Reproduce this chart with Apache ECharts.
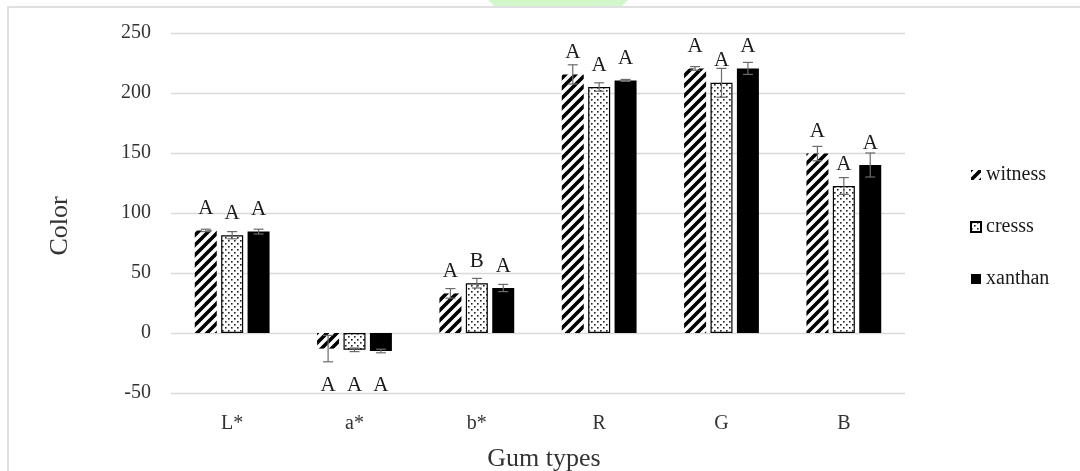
<!DOCTYPE html>
<html>
<head>
<meta charset="utf-8">
<script src="https://cdn.jsdelivr.net/npm/echarts@6/dist/echarts.min.js"></script>
<style>
  html, body { margin: 0; padding: 0; background: #fff; }
  #chart { width: 1080px; height: 471px; }
</style>
</head>
<body>
<div id="chart"></div>
<script>
const categories = ['L*', 'a*', 'b*', 'R', 'G', 'B']
const seriesNames = ['witness', 'cresss', 'xanthan']

const witness = [85.5, -13, 33, 215.5, 220.5, 149.5]
const cresss = [81.5, -14, 41.5, 205, 208.5, 122.5]
const xanthan = [84.5, -15, 37.5, 210.5, 220.5, 140]

const witnessErr = [1, 11, 4, 8, 1.5, 6]
const cresssErr = [3, 1.5, 4, 3.5, 12, 7]
const xanthanErr = [2, 1.5, 3, 0.8, 5, 10]

const witnessLetters = ['A', 'A', 'A', 'A', 'A', 'A']
const cresssLetters = ['A', 'A', 'B', 'A', 'A', 'A']
const xanthanLetters = ['A', 'A', 'A', 'A', 'A', 'A']

const yTicks = { min: -50, max: 250, interval: 50 }
const negLabelAt = -44 // letters under negative bars sit on one line

// patterns
function hatch () {
  const c = document.createElement('canvas')
  c.width = 10
  c.height = 10
  const ctx = c.getContext('2d')
  ctx.fillStyle = '#fff'
  ctx.fillRect(0, 0, 10, 10)
  ctx.strokeStyle = '#000'
  ctx.lineWidth = 3.6
  ctx.beginPath()
  for (let k = -1; k <= 1; k++) {
    ctx.moveTo(-2 + k * 10, 12)
    ctx.lineTo(12 + k * 10, -2)
  }
  ctx.stroke()
  return { image: c, repeat: 'repeat' }
}
function dots () {
  const c = document.createElement('canvas')
  c.width = 6
  c.height = 6
  const ctx = c.getContext('2d')
  ctx.fillStyle = '#fff'
  ctx.fillRect(0, 0, 6, 6)
  ctx.fillStyle = '#222'
  ctx.fillRect(0, 0, 1.6, 1.6)
  ctx.fillRect(3, 3, 1.6, 1.6)
  return { image: c, repeat: 'repeat' }
}

const barWidth = 22
const barGapPx = 4.4
const fills = [hatch(), dots(), '#000']
const borders = [
  { borderWidth: 0 },
  { borderColor: '#000', borderWidth: 1.2 },
  { borderColor: '#000', borderWidth: 0 }
]
const values = [witness, cresss, xanthan]
const errs = [witnessErr, cresssErr, xanthanErr]
const letters = [witnessLetters, cresssLetters, xanthanLetters]
const serif = 'Liberation Serif, Times New Roman, serif'

const chart = echarts.init(document.getElementById('chart'))

const barSeries = seriesNames.map((name, i) => ({
  name,
  type: 'bar',
  data: values[i],
  barWidth,
  barGap: (barGapPx / barWidth * 100) + '%',
  itemStyle: Object.assign({ color: fills[i] }, borders[i]),
  emphasis: { disabled: true },
  z: 2
}))

const errSeries = seriesNames.map((name, i) => ({
  type: 'custom',
  name: name + '-err',
  data: categories.map((_, k) => [k, values[i][k], errs[i][k], letters[i][k]]),
  z: 5,
  renderItem: (params, api) => {
    const k = api.value(0)
    const v = api.value(1)
    const e = api.value(2)
    const off = (i - 1) * (barWidth + barGapPx)
    const end = api.coord([k, v])
    const top = api.coord([k, v + e])
    const bot = api.coord([k, v - e])
    const x = top[0] + off
    const cap = 5
    const lineStyle = { stroke: '#6b6b6b', lineWidth: 1.2 }
    // letters: outside end of the bar for positive values
    const ty = v >= 0 ? end[1] - 22 : api.coord([k, negLabelAt])[1]
    return {
      type: 'group',
      children: [
        { type: 'line', shape: { x1: x, y1: top[1], x2: x, y2: bot[1] }, style: lineStyle },
        { type: 'line', shape: { x1: x - cap, y1: top[1], x2: x + cap, y2: top[1] }, style: lineStyle },
        { type: 'line', shape: { x1: x - cap, y1: bot[1], x2: x + cap, y2: bot[1] }, style: lineStyle },
        {
          type: 'text',
          style: {
            text: api.value(3),
            x,
            y: ty,
            align: 'center',
            verticalAlign: 'middle',
            fill: '#1a1a1a',
            font: '21px ' + serif
          }
        }
      ]
    }
  }
}))

const option = {
  animation: false,
  backgroundColor: '#fff',
  graphic: [
    {
      type: 'rect',
      shape: { x: 8, y: 7, width: 1200, height: 600 },
      style: { fill: 'none', stroke: '#d6d6d6', lineWidth: 1.5 },
      silent: true
    },
    {
      type: 'polygon',
      shape: { points: [[488, 0], [628, 0], [622, 6], [494, 6]] },
      style: { fill: '#d2f7cb' },
      silent: true
    }
  ],
  grid: { left: 171, right: 175, top: 33, bottom: 78, outerBoundsMode: 'none', containLabel: false },
  legend: {
    data: seriesNames,
    orient: 'vertical',
    left: 965,
    top: 160,
    icon: 'rect',
    itemWidth: 10,
    itemHeight: 10,
    itemGap: 32,
    textStyle: { fontFamily: serif, fontSize: 20, color: '#1a1a1a' }
  },
  xAxis: {
    type: 'category',
    data: categories,
    axisLine: { show: false, onZero: false },
    axisTick: { show: false },
    axisLabel: { margin: 21, fontFamily: serif, fontSize: 20, color: '#333' },
    name: 'Gum types',
    nameLocation: 'middle',
    nameGap: 53,
    nameTextStyle: { fontFamily: serif, fontSize: 26, color: '#333', padding: [0, 0, 0, 12] }
  },
  yAxis: {
    type: 'value',
    min: yTicks.min,
    max: yTicks.max,
    interval: yTicks.interval,
    axisLine: { show: false },
    axisTick: { show: false },
    axisLabel: { margin: 20, fontFamily: serif, fontSize: 20, color: '#333' },
    splitLine: { lineStyle: { color: '#d9d9d9', width: 1.3 } },
    name: 'Color',
    nameLocation: 'middle',
    nameRotate: 90,
    nameGap: 98,
    nameTextStyle: { fontFamily: serif, fontSize: 26, color: '#333', padding: [0, 26, 0, 0] }
  },
  series: [...barSeries, ...errSeries]
}

chart.setOption(option)
</script>
</body>
</html>
